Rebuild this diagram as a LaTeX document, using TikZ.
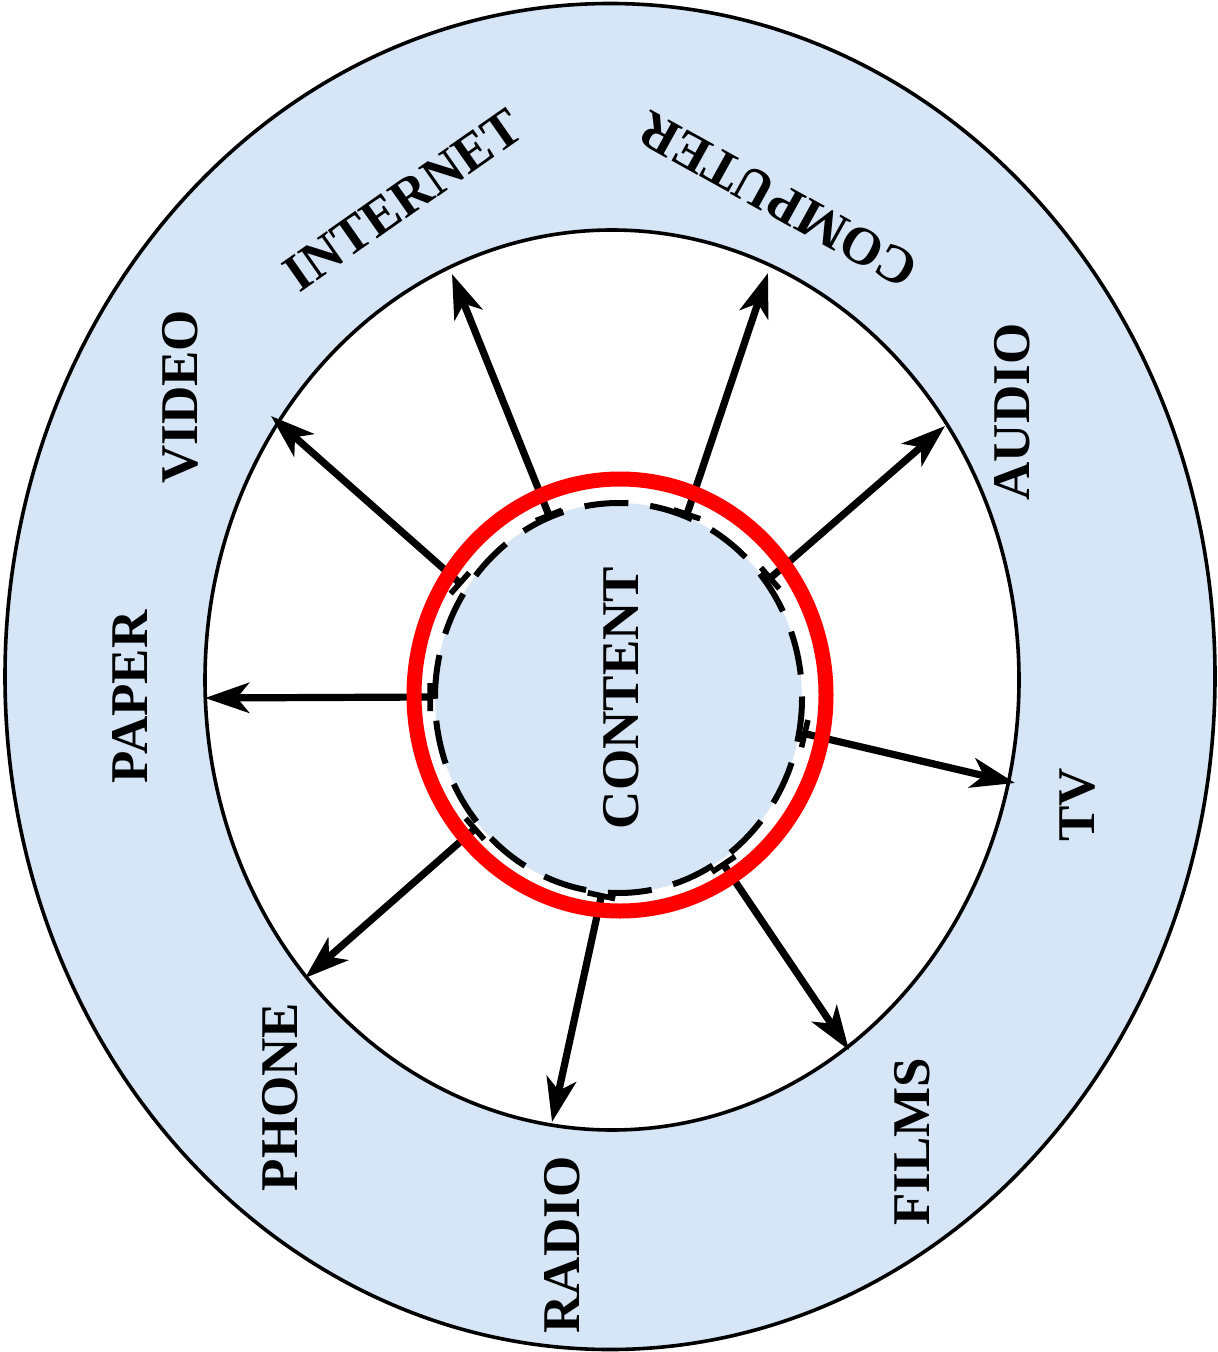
\documentclass[tikz,border=0pt]{standalone}
\usepackage{fontspec}
\setmainfont{Liberation Serif}
\usetikzlibrary{arrows.meta}
\definecolor{bgblue}{RGB}{214,230,246}
\begin{document}
\begin{tikzpicture}[x=0.5pt,y=-0.5pt,
  lbl/.style={font=\fontsize{26.5}{30}\selectfont\bfseries, inner sep=0pt, rotate=90},
  ray/.style={line width=3.6pt, {Bar[width=14pt,line width=2.8pt]}-{Stealth[length=22pt,width=15pt,inset=6pt]}},
  ring/.style={line width=1.8pt}]
\useasboundingbox (0,0) rectangle (1217,1352);
% rings
\draw[ring, fill=bgblue] (610,676.5) ellipse (605 and 673);
\draw[ring, fill=white] (612,680) ellipse (407 and 450);
\fill[bgblue] (618.5,698) ellipse (183.5 and 195);
\draw[line width=3pt, dash pattern=on 22pt off 11pt] (618.5,698) ellipse (183.5 and 195);
% coordinates
\coordinate (s1) at (433,697);  \coordinate (e1) at (205,698);
\coordinate (s2) at (462,585);  \coordinate (e2) at (271,416);
\coordinate (s3) at (550,518);  \coordinate (e3) at (452,274);
\coordinate (s4) at (686,517);  \coordinate (e4) at (768,273);
\coordinate (s5) at (768,580);  \coordinate (e5) at (945,426);
\coordinate (s6) at (802,733);  \coordinate (e6) at (1015,783);
\coordinate (s7) at (722,862);  \coordinate (e7) at (849,1050);
\coordinate (s8) at (602,893);  \coordinate (e8) at (552,1122);
\coordinate (s9) at (477,827);  \coordinate (e9) at (305,978);
\foreach \i in {1,...,9} { \draw[ray] (s\i) -- (e\i); }
\draw[red, line width=7.5pt] (620,695) ellipse (206 and 216);
% labels
\node[lbl] (content) at (621,698) {CONTENT};
\node[lbl] (paper) at (130,697) {PAPER};
\node[lbl] (video) at (180,397) {VIDEO};
\node[lbl, rotate=-55] (internet) at (403,200) {INTERNET};
\node[lbl, rotate=61] (computer) at (778,200) {COMPUTER};
\node[lbl] (audio) at (1012,412) {AUDIO};
\node[lbl] (tv) at (1078,805) {TV};
\node[lbl] (films) at (912,1142) {FILMS};
\node[lbl] (radio) at (562,1245) {RADIO};
\node[lbl] (phone) at (280,1097) {PHONE};
\end{tikzpicture}
\end{document}
